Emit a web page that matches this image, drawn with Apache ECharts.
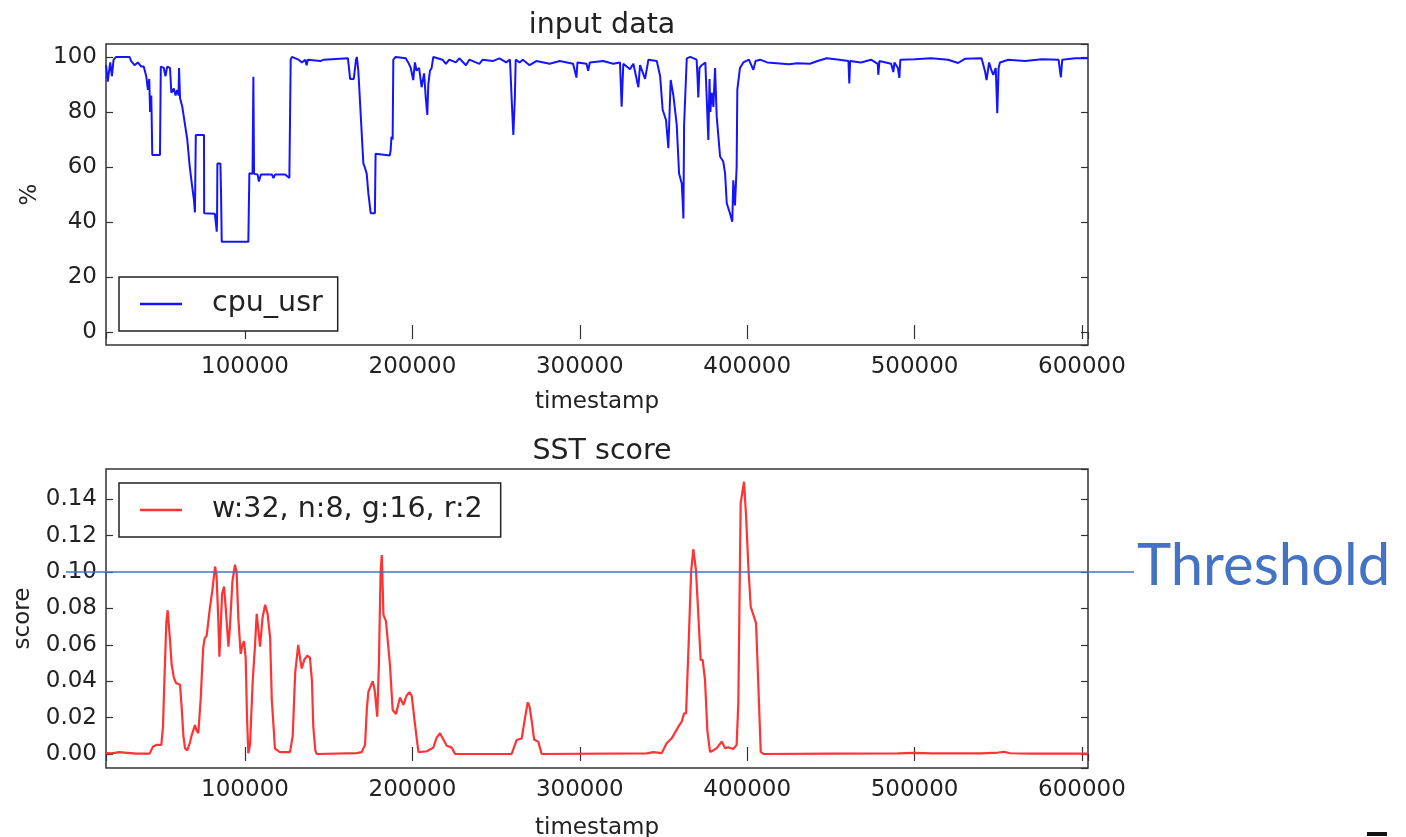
<!DOCTYPE html>
<html><head><meta charset="utf-8">
<script src="https://cdn.jsdelivr.net/npm/echarts@6/dist/echarts.min.js"></script>
<style>html,body{margin:0;padding:0;background:#fff}#c{width:1406px;height:837px}</style>
</head><body><div id="c"></div>
<script>
// ---- data ----
const cpuTimestamps = [17000,18000,19500,20500,21500,23000,31000,32000,34000,36000,38000,39500,41000,42000,42800,43300,44000,44300,44600,49200,49700,51500,52500,53500,55200,56000,57500,58500,59500,60300,60600,61200,62500,64000,65500,67000,68200,69500,70100,70550,70600,75500,75600,82000,82700,83100,83300,83500,85300,85700,86100,102000,102600,104500,105000,105400,107500,108300,109500,116000,117000,118000,124000,126500,127300,128000,132000,134000,136000,136800,137500,145000,147000,161500,162300,162800,165000,166300,166800,167700,170700,171500,172700,173700,175100,177600,178000,186500,187000,187500,188200,188600,190000,196000,197500,199000,200500,201500,202500,204000,205500,207000,208000,208900,209500,210500,211500,212500,218000,220000,222000,226000,228000,232000,234000,240000,242000,248000,252000,256000,258300,259500,260300,261200,261700,264000,266000,270000,274000,282000,288000,296000,298000,298600,304000,305000,306000,314000,320000,324000,325000,326000,330000,332000,335000,336000,339000,341000,346000,348000,349500,351500,352900,354300,355900,357900,359300,360900,361500,361900,362300,363900,366000,369800,370300,370800,371500,372800,375000,376800,377500,378000,378800,379800,380800,381800,383800,385700,386800,387800,389700,391100,391700,392700,393700,394100,395700,397700,401000,403700,405000,407700,412000,417600,425000,430000,437500,442000,447500,455000,460500,461000,461500,468000,474000,478000,478340,479000,486000,487300,488000,490000,490900,491500,500000,510000,520000,526000,530000,540000,542000,543000,544500,546000,547000,548500,549400,550200,551000,556000,566000,576000,586000,587400,588200,596000,603500];
const cpuValues = [97,91,98,93,99,100,100,98.5,97,98,96.5,96.5,93,88,92,80,86,76,64.4,64.4,96.5,96,93,96.5,96,87,88.5,86,88,86,96,85,82,76,70,60,54,48,43.5,43.2,71.6,71.6,43.2,43,39,36.5,40,61.3,61.3,50,32.8,32.8,57.7,57.5,92.8,57.5,57.3,54.7,57.3,57.3,56,57.3,57.3,56,99,100,99,98,99,97,99,98.5,99,99.5,99.5,92,92,99,100,95,61.3,60,57.6,50.3,43.2,43.2,64.8,64.2,66,71,70,99,100,99.5,98,96,91.6,98,95,96,89,94,85,78.9,90,95,96,100,99,97.5,99,98,99.5,97,99,97.5,99,98.5,99.5,98,99,82,71.6,85,99,98,99,97,98.5,97.5,98.5,97.5,92.5,98,97.5,95,98,98.5,97.5,98,81.9,97.5,95.5,97.5,89,97,92,99,98.5,93,80.8,77.1,66.8,91.6,86,75.4,57.6,54,47,41.3,75,99.5,100,99,93,85.3,96,97,98,69.8,92,80,87,81.8,96,78.3,63.8,62,57.6,46.8,43.2,40.1,55.2,46,60,88,96,98,99,95.3,98.5,99,98,97.7,97.3,97.7,97.5,98.5,99.5,99,98.5,90.4,98.5,98,99,97.5,93.5,98.5,97.5,94.5,98,96,92.4,99,99.2,99.5,99,97.8,99.3,99.5,95,91.6,98,95,93.5,96,79.5,96,98,99,98.5,99.2,99,92.6,99,99.5,99.5];

const scoreTimestamps = [17000,20000,25000,28000,35000,43000,45000,47000,50000,51000,52000,53000,53800,55000,56200,57500,58800,61200,62200,63200,64200,65500,67000,68200,70100,71000,72100,73500,75000,75900,77100,79000,80500,82100,83000,84000,84700,85500,86300,87500,88500,90100,91000,92500,94000,95000,96000,97400,98500,99400,100400,101200,102000,103000,104600,106000,107000,108000,109000,110500,112000,113500,115000,116000,117900,120900,126900,128500,130000,131800,133000,133900,135500,137200,138800,140000,140800,142000,142800,166700,169700,171700,172800,173700,176300,177500,179000,180000,181000,181700,182300,182700,184200,186600,188200,190200,192600,194600,196500,198200,199600,201600,203600,208600,212500,214500,216500,218500,220500,223500,225500,259300,262300,265300,267300,268900,270000,271300,272700,275200,277200,340000,344000,349000,351900,354900,358900,360900,362300,363500,365000,366500,367800,369400,371400,372200,373400,374800,376200,377800,379800,381800,384800,386800,388700,391700,393700,394700,396100,398100,399300,400700,402100,403700,405300,406700,408100,409700,450000,490000,500000,510000,540000,550000,553400,557000,570000,603500];
const scoreValues = [0.0005,0.0003,0.001,0.0008,0.0002,0.0002,0.004,0.005,0.005,0.015,0.045,0.072,0.079,0.065,0.049,0.042,0.039,0.038,0.025,0.01,0.003,0.002,0.006,0.0104,0.0159,0.013,0.0114,0.03,0.058,0.0635,0.065,0.08,0.09,0.103,0.098,0.075,0.0535,0.07,0.088,0.092,0.08,0.059,0.07,0.095,0.104,0.1,0.075,0.055,0.06,0.062,0.053,0.02,0.0004,0.005,0.04,0.06,0.077,0.068,0.059,0.075,0.082,0.077,0.064,0.03,0.003,0.001,0.001,0.01,0.045,0.0599,0.052,0.047,0.052,0.054,0.053,0.04,0.015,0.002,0,0.0005,0.001,0.005,0.025,0.0341,0.04,0.035,0.0205,0.05,0.1,0.1093,0.09,0.0764,0.073,0.049,0.0242,0.022,0.031,0.027,0.032,0.034,0.032,0.016,0.001,0.0015,0.0035,0.009,0.0114,0.008,0.0045,0.0035,0,0,0.0077,0.0085,0.02,0.0284,0.026,0.018,0.008,0.0068,0,0.0003,0.001,0.0005,0.0059,0.0086,0.015,0.0178,0.0223,0.0223,0.06,0.1,0.1125,0.1011,0.066,0.0517,0.0517,0.0407,0.013,0.0011,0.002,0.0032,0.0068,0.0032,0.0037,0.0027,0.005,0.0279,0.1377,0.1496,0.1313,0.1029,0.0809,0.0764,0.0718,0.0369,0.0011,0,0.0002,0.0003,0.0006,0.0003,0.0003,0.0008,0.0012,0.0004,0.0002,0.0002];

const topTitle = 'input data';
const bottomTitle = 'SST score';
const cpuSeriesName = 'cpu_usr';
const scoreSeriesName = 'w:32, n:8, g:16, r:2';
const xAxisName = 'timestamp';
const topYName = '%';
const bottomYName = 'score';
const xRange = [16960, 603600];
const topYRange = [-4.7, 104.7];
const bottomYRange = [-0.0077, 0.1566];
const xStep = 100000, topYStep = 20, bottomYStep = 0.02;
const thresholdValue = 0.10;
const thresholdLabel = 'Threshold';

// ---- chart ----
const FONT = 'DejaVu Sans';
const INK = '#222';
const tick = {show: true, inside: true, length: 7, lineStyle: {color: '#333', width: 1.2}};
const lbl = {fontFamily: FONT, fontSize: 23, color: INK};

function mainX(grid, name, gap) {
  return {type: 'value', gridIndex: grid, position: 'bottom', min: xRange[0], max: xRange[1],
    minInterval: xStep, maxInterval: xStep, axisLine: {show: false}, axisTick: tick, splitLine: {show: false},
    axisLabel: Object.assign({formatter: v => String(Math.round(v)), margin: 11, showMinLabel: false, showMaxLabel: false}, lbl),
    name: name, nameLocation: 'middle', nameGap: gap, nameTextStyle: lbl};
}
function mirrorX(grid) {
  return {type: 'value', gridIndex: grid, position: 'top', min: xRange[0], max: xRange[1],
    minInterval: xStep, maxInterval: xStep, axisLine: {show: false}, axisTick: tick,
    splitLine: {show: false}, axisLabel: {show: false}};
}
function mainY(grid, range, step, fmt, name, gap) {
  return {type: 'value', gridIndex: grid, position: 'left', min: range[0], max: range[1],
    minInterval: step, maxInterval: step, axisLine: {show: false}, axisTick: tick, splitLine: {show: false},
    axisLabel: Object.assign({formatter: fmt, margin: 9, showMinLabel: false, showMaxLabel: false}, lbl),
    name: name, nameLocation: 'middle', nameGap: gap, nameTextStyle: lbl};
}
function mirrorY(grid, range, step) {
  return {type: 'value', gridIndex: grid, position: 'right', min: range[0], max: range[1],
    minInterval: step, maxInterval: step, axisLine: {show: false}, axisTick: tick,
    splitLine: {show: false}, axisLabel: {show: false}};
}
function legendBox(name, top, padRight) {
  return {data: [name], left: 119, top: top, orient: 'horizontal', icon: 'rect',
    itemWidth: 42, itemHeight: 2.5, padding: [10, padRight, 10, 21],
    borderColor: INK, borderWidth: 1.5, borderRadius: 0, backgroundColor: '#fff',
    selectedMode: false,
    textStyle: {fontFamily: FONT, fontSize: 28.5, color: INK, lineHeight: 34, padding: [0, 0, 0, 25]}};
}

const chart = echarts.init(document.getElementById('c'), null, {renderer: 'canvas'});
chart.setOption({
  animation: false,
  backgroundColor: '#fff',
  title: [
    {text: topTitle, left: 597, top: 6, textAlign: 'center', textStyle: {fontFamily: FONT, fontSize: 28.5, fontWeight: 'normal', color: INK}},
    {text: bottomTitle, left: 597, top: 432, textAlign: 'center', textStyle: {fontFamily: FONT, fontSize: 28.5, fontWeight: 'normal', color: INK}}
  ],
  legend: [legendBox(cpuSeriesName, 277, 15), legendBox(scoreSeriesName, 483, 18)],
  grid: [
    {left: 106, top: 44, width: 982, height: 301, show: true, borderColor: '#333', borderWidth: 1.5, backgroundColor: 'transparent', outerBoundsMode: 'none', containLabel: false},
    {left: 106, top: 469, width: 982, height: 299, show: true, borderColor: '#333', borderWidth: 1.5, backgroundColor: 'transparent', outerBoundsMode: 'none', containLabel: false}
  ],
  xAxis: [mainX(0, xAxisName, 46), mainX(1, xAxisName, 49), mirrorX(0), mirrorX(1)],
  yAxis: [
    mainY(0, topYRange, topYStep, v => String(Math.round(v)), topYName, 64),
    mainY(1, bottomYRange, bottomYStep, v => v.toFixed(2), bottomYName, 71),
    mirrorY(0, topYRange, topYStep),
    mirrorY(1, bottomYRange, bottomYStep)
  ],
  series: [
    {name: cpuSeriesName, type: 'line', xAxisIndex: 0, yAxisIndex: 0, showSymbol: false, symbol: 'none',
     color: '#1414ff', itemStyle: {color: '#1414ff'},
     lineStyle: {color: '#1414ff', width: 2}, data: cpuTimestamps.map((t, i) => [t, cpuValues[i]])},
    {name: scoreSeriesName, type: 'line', xAxisIndex: 1, yAxisIndex: 1, showSymbol: false, symbol: 'none',
     color: '#ff3333', itemStyle: {color: '#ff3333'},
     lineStyle: {color: '#ff3333', width: 2.2}, data: scoreTimestamps.map((t, i) => [t, scoreValues[i]])}
  ]
});

const ty = chart.convertToPixel({yAxisIndex: 1}, thresholdValue);
chart.setOption({
  graphic: [
    {type: 'line', z: 100, shape: {x1: 66, y1: ty, x2: 1134, y2: ty}, style: {stroke: '#4472C4', lineWidth: 1.3}},
    {type: 'text', z: 100, x: 1137, y: ty - 6, style: {text: thresholdLabel, fill: '#4472C4', font: '58px Lato', verticalAlign: 'middle', align: 'left'}},
    {type: 'rect', z: 100, shape: {x: 1367, y: 832, width: 20, height: 4}, style: {fill: '#111'}}
  ]
});
</script></body></html>
